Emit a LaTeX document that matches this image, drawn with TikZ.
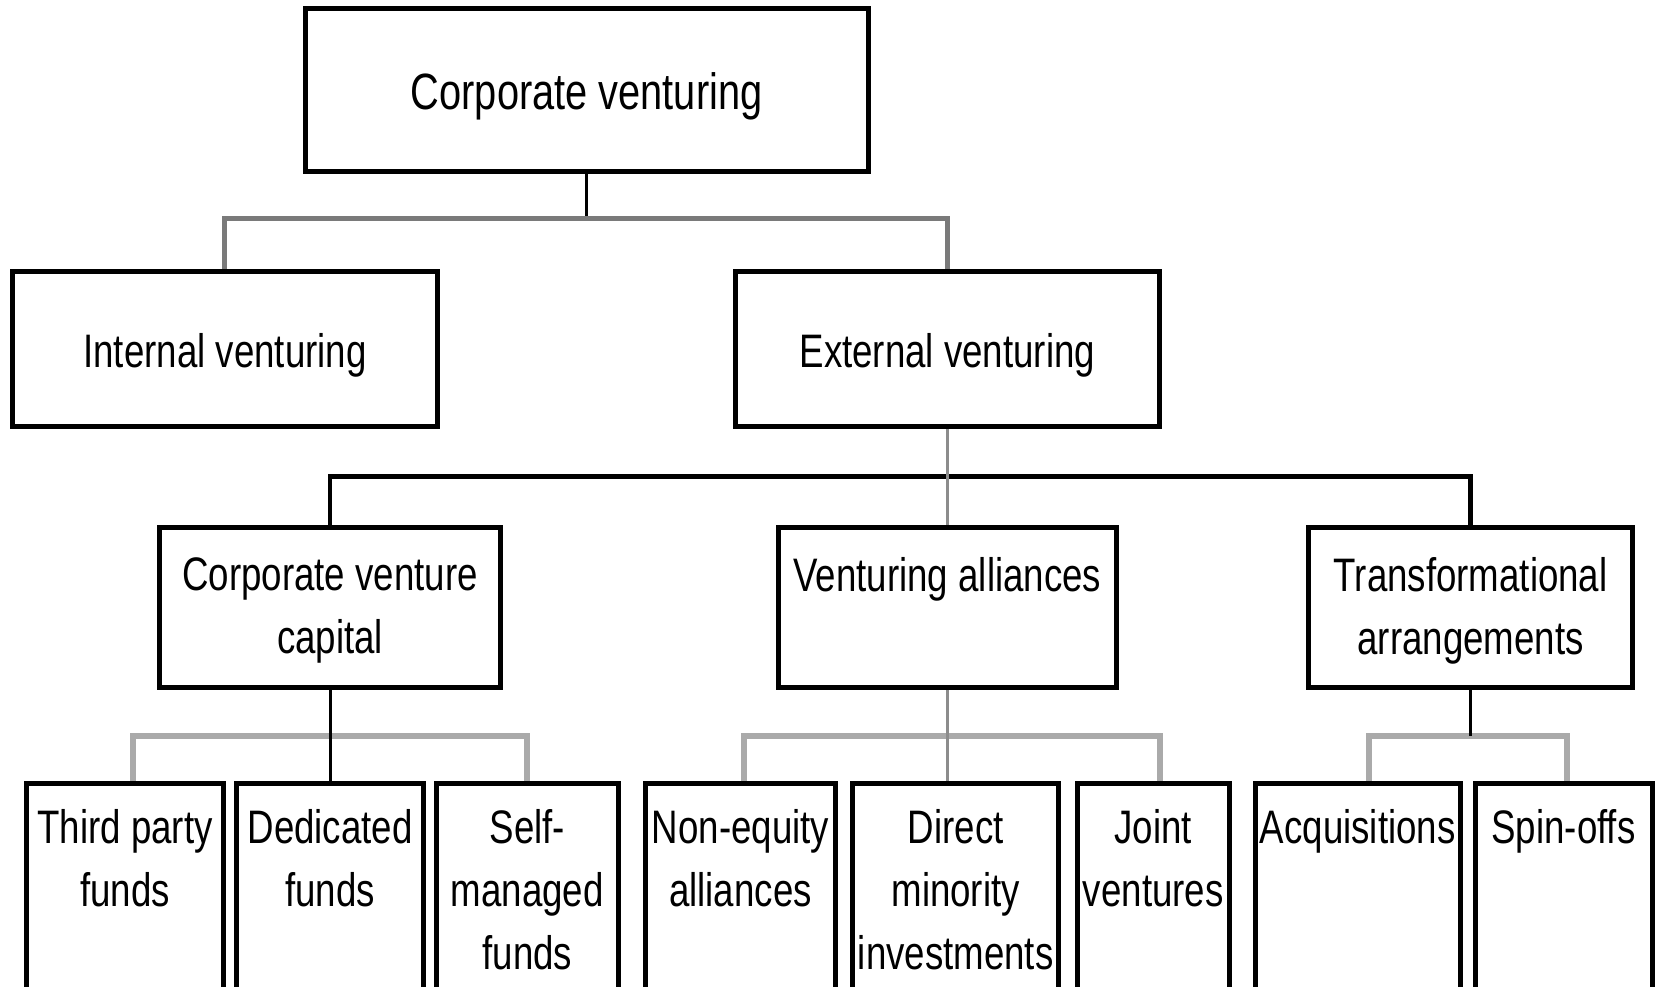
\documentclass[tikz,border=0pt]{standalone}
\usepackage{fontspec}
\setmainfont[FakeStretch=0.78]{Liberation Sans}
\usetikzlibrary{calc}
\definecolor{lgray}{RGB}{170,170,170}
\definecolor{mgray}{RGB}{140,140,140}
\definecolor{dgray}{RGB}{122,122,122}
\pgfdeclarelayer{bg}
\pgfsetlayers{bg,main}
\begin{document}
\begin{tikzpicture}[x=1pt,y=-1pt,
  box/.style={draw=black, line width=5pt, fill=white, rectangle, inner sep=0pt, outer sep=0pt, anchor=north west},
  lbl/.style={font=\fontsize{47}{63}\selectfont, align=center, anchor=north, inner sep=0pt},
  toplbl/.style={font=\fontsize{51}{63}\selectfont, align=center, anchor=center, inner sep=0pt},
  midlbl/.style={font=\fontsize{47}{63}\selectfont, align=center, anchor=center, inner sep=0pt},
  blk/.style={draw=black, line width=3pt},
  bus1/.style={draw=dgray, line width=5pt},
  bus2/.style={draw=black, line width=4.5pt},
  bus3/.style={draw=lgray, line width=6pt},
  gstem/.style={draw=mgray, line width=3.5pt}]
\useasboundingbox (0,0) rectangle (1656,986);
\clip (0,0) rectangle (1656,986);
% boxes
\path
  (305.2,8.4)    node[box, minimum width=563pt,   minimum height=162.7pt] (cv) {}
  (12.7,271.4)   node[box, minimum width=424.5pt, minimum height=155.3pt] (iv) {}
  (735,271.4)    node[box, minimum width=424.6pt, minimum height=155.3pt] (ev) {}
  (159.5,527)    node[box, minimum width=341.1pt, minimum height=160.5pt] (cvc) {}
  (778.3,527)    node[box, minimum width=338pt,   minimum height=160.5pt] (va) {}
  (1308.5,527)   node[box, minimum width=324.2pt, minimum height=160.5pt] (ta) {}
  (26.4,783.6)   node[box, minimum width=197.5pt, minimum height=240pt] (tp) {}
  (236.6,783.6)  node[box, minimum width=187pt,   minimum height=240pt] (dd) {}
  (436.5,783.6)  node[box, minimum width=181.7pt, minimum height=240pt] (sm) {}
  (645.5,783.6)  node[box, minimum width=190pt,   minimum height=240pt] (ne) {}
  (852.7,783.6)  node[box, minimum width=206pt,   minimum height=240pt] (dm) {}
  (1077,783.6)   node[box, minimum width=152.5pt, minimum height=240pt] (jv) {}
  (1255,783.6)   node[box, minimum width=205.5pt, minimum height=240pt] (aq) {}
  (1475,783.6)   node[box, minimum width=177pt,   minimum height=240pt] (so) {};
% texts
\node[toplbl] (cv-t) at ($(cv.center)+(0,7)$) {Corporate venturing};
\node[midlbl] (iv-t) at ($(iv.center)+(0,6)$) {Internal venturing};
\node[midlbl] (ev-t) at ($(ev.center)+(0,6)$) {External venturing};
\node[lbl] (cvc-t) at ($(cvc.north)+(0,30)$) {Corporate venture\\capital};
\node[lbl] (va-t)  at ($(va.north)+(0,30)$)  {Venturing alliances};
\node[lbl] (ta-t)  at ($(ta.north)+(0,30)$)  {Transformational\\arrangements};
\node[lbl] (tp-t)  at ($(tp.north)+(0,26)$)  {Third party\\funds};
\node[lbl] (dd-t)  at ($(dd.north)+(0,26)$)  {Dedicated\\funds};
\node[lbl] (sm-t)  at ($(sm.north)+(0,26)$)  {Self-\\managed\\funds};
\node[lbl] (ne-t)  at ($(ne.north)+(0,26)$)  {Non-equity\\alliances};
\node[lbl] (dm-t)  at ($(dm.north)+(0,26)$)  {Direct\\minority\\investments};
\node[lbl] (jv-t)  at ($(jv.north)+(0,26)$)  {Joint\\ventures};
\node[lbl] (aq-t)  at ($(aq.north)+(0,26)$)  {Acquisitions};
\node[lbl] (so-t)  at ($(so.north)+(0,26)$)  {Spin-offs};
% junction coordinates
\coordinate (j1) at (586.6,218.6);
\coordinate (j2) at (947.3,476.3);
\coordinate (d1) at (133,735.5);
\coordinate (d2) at (526.5,735.5);
\coordinate (d3) at (743.7,735.5);
\coordinate (d4) at (1160,735.5);
\coordinate (d5) at (1369,735.5);
\coordinate (d6) at (1566.5,735.5);
% connectors beneath boxes
\begin{pgfonlayer}{bg}
  % level 1
  \draw[blk] (cv.south) -- (cv.south |- j1);
  \draw[bus1] (iv.north) -- (iv.north |- j1) -- (ev.north |- j1) -- (ev.north);
  % level 2
  \draw[bus2] (cvc.north) -- (cvc.north |- j2) -- (ta.north |- j2) -- (ta.north);
  \draw[gstem] (ev.south) -- (ev.south |- j2);
  \draw[gstem] (va.north |- j2) -- (va.north);
  % level 3: corporate venture capital
  \draw[bus3] (d1 |- tp.north) -- (d1) -- (d2) -- (d2 |- sm.north);
  \draw[blk] (cvc.south) -- (cvc.south |- dd.north);
  % level 3: venturing alliances
  \draw[bus3] (d3 |- ne.north) -- (d3) -- (d4) -- (d4 |- jv.north);
  \draw[gstem] (va.south) -- (va.south |- dm.north);
  % level 3: transformational arrangements
  \draw[bus3] (d5 |- aq.north) -- (d5) -- (d6) -- (d6 |- so.north);
  \draw[blk] (ta.south) -- (ta.south |- d5);
\end{pgfonlayer}
\end{tikzpicture}
\end{document}
